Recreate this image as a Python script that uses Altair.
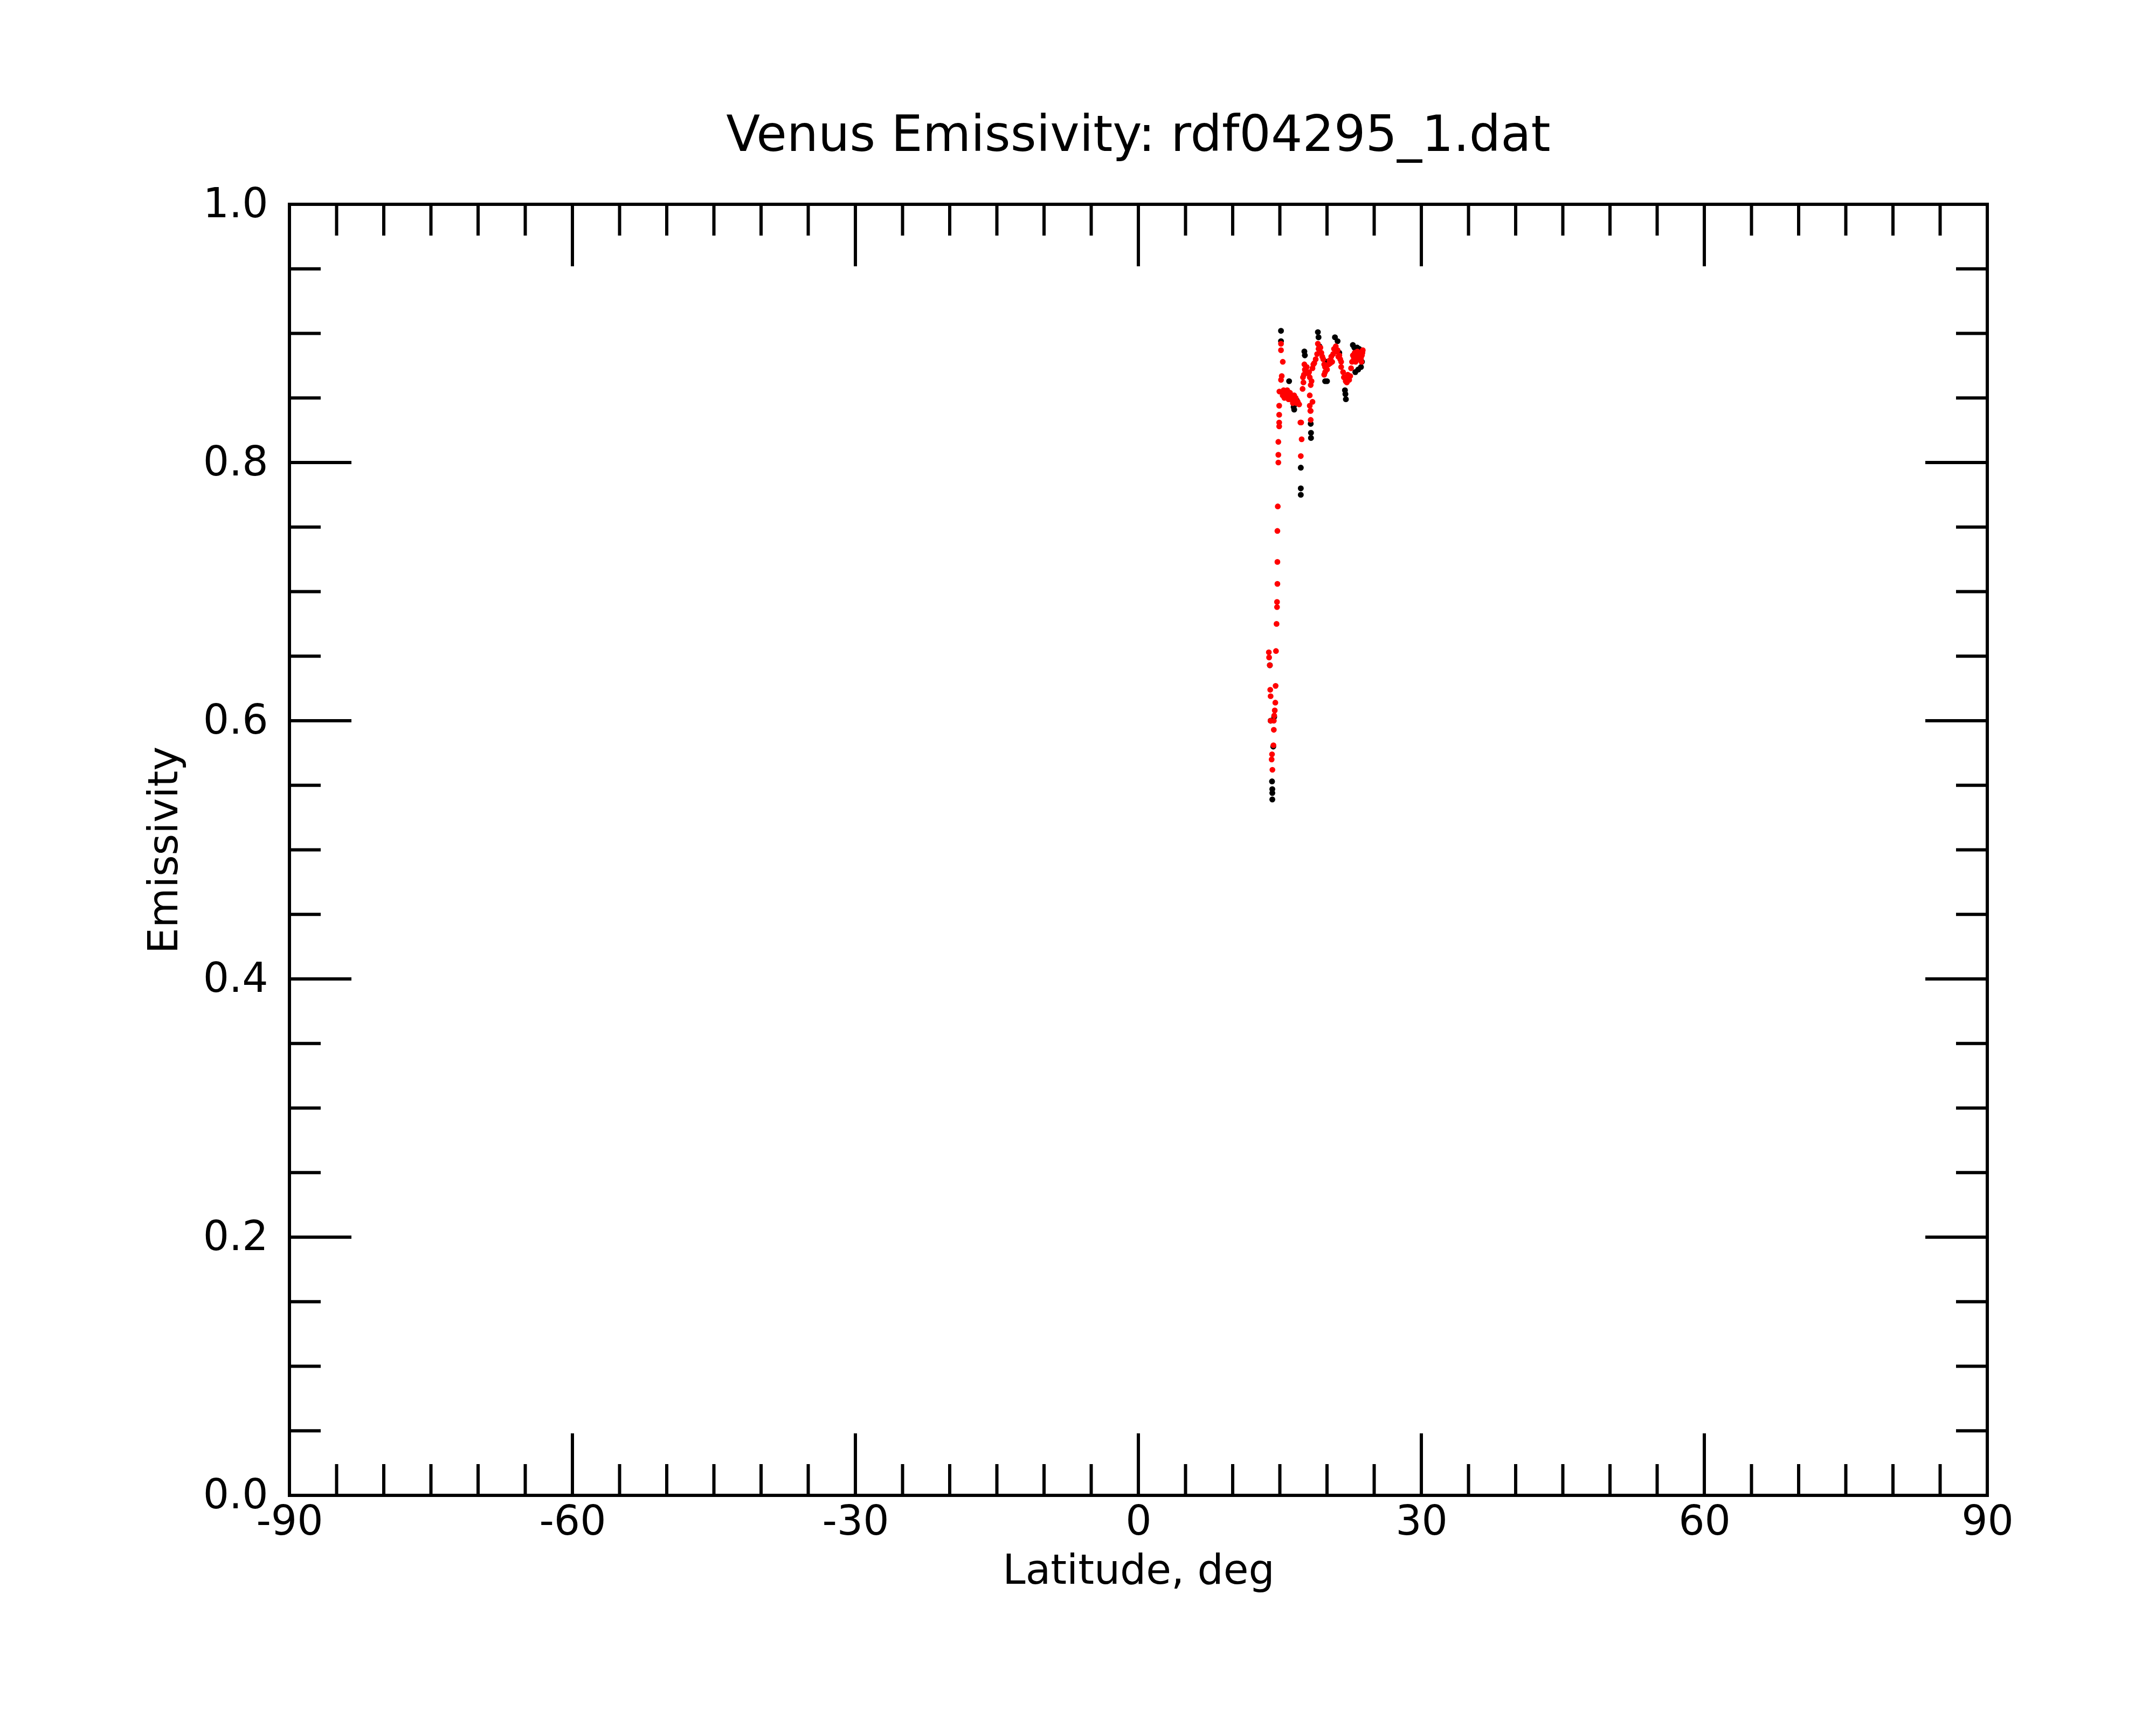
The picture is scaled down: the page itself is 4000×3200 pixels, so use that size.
import altair as alt
import pandas as pd

# ---- data ----
red_lat = [13.83, 13.86, 13.94, 13.98, 14.02, 14.02, 14.13, 14.17, 14.21, 14.32,
           14.36, 14.36, 14.40, 14.46, 14.52, 14.55, 14.59, 14.65, 14.70, 14.70,
           14.74, 14.74, 14.74, 14.78, 14.84, 14.84, 14.84, 14.93, 14.93, 14.93,
           14.93, 14.95, 15.12, 15.20, 15.31, 15.12, 15.12,
           15.40, 15.55, 15.70, 15.85, 16.00, 16.15, 16.30, 16.45, 16.60, 16.75,
           16.90, 17.05, 17.18, 17.26, 17.31, 17.22, 17.41, 17.50, 17.55, 17.60,
           17.70, 18.00, 18.17, 18.36, 18.27, 18.17, 18.46, 18.17, 18.27, 18.23,
           18.27, 18.46, 18.65, 18.80, 19.03, 19.10, 19.20, 19.40, 19.50, 19.60,
           19.70, 19.79, 19.80, 19.70, 19.90, 20.00, 20.17, 20.35, 20.55, 20.74,
           20.93, 21.12, 21.31, 21.50, 21.50, 21.70, 21.79, 21.98, 22.10, 22.27,
           22.46, 22.55, 22.65, 22.74, 22.93, 23.03, 23.22, 23.31, 23.50, 23.60,
           23.70, 23.79,
           15.30, 15.48, 15.62, 15.78, 15.92, 16.08, 16.22, 16.38, 16.52, 16.68,
           17.45, 17.65, 17.85, 18.10, 18.55, 18.95, 19.30, 20.25, 20.45, 20.65,
           21.00, 21.20, 21.40, 22.20, 22.35, 22.85, 23.10, 23.40, 23.65, 23.75]
red_emis = [0.653, 0.649, 0.643, 0.624, 0.619, 0.600, 0.570, 0.574, 0.562, 0.581,
            0.593, 0.600, 0.604, 0.608, 0.614, 0.627, 0.654, 0.675, 0.688, 0.692,
            0.706, 0.723, 0.747, 0.766, 0.800, 0.806, 0.816, 0.828, 0.831, 0.837,
            0.844, 0.855, 0.864, 0.867, 0.878, 0.887, 0.892,
            0.856, 0.853, 0.855, 0.851, 0.852, 0.849, 0.850, 0.848, 0.849, 0.846,
            0.847, 0.845, 0.831, 0.831, 0.818, 0.805, 0.857, 0.862, 0.868, 0.876,
            0.871, 0.869, 0.866, 0.863, 0.860, 0.852, 0.847, 0.844, 0.840, 0.840,
            0.833, 0.873, 0.877, 0.880, 0.892, 0.888, 0.888, 0.885, 0.882, 0.880,
            0.876, 0.874, 0.870, 0.868, 0.873, 0.872, 0.876, 0.877, 0.878, 0.888,
            0.890, 0.887, 0.883, 0.878, 0.874, 0.870, 0.866, 0.863, 0.862, 0.865,
            0.867, 0.873, 0.878, 0.883, 0.885, 0.878, 0.886, 0.880, 0.885, 0.881,
            0.883, 0.887,
            0.852, 0.850, 0.853, 0.856, 0.849, 0.854, 0.851, 0.846, 0.852, 0.850,
            0.866, 0.872, 0.874, 0.870, 0.876, 0.884, 0.889, 0.879, 0.882, 0.884,
            0.886, 0.882, 0.880, 0.868, 0.864, 0.881, 0.884, 0.882, 0.878, 0.885]

black_lat = [13.94, 14.02, 14.30, 14.40, 14.17, 14.20, 14.20, 14.20, 15.12, 15.12,
             15.50, 15.98, 16.10, 16.46, 16.52, 16.60, 16.80, 17.22, 17.22, 17.22,
             17.60, 17.65, 17.80, 18.27, 18.30, 18.30, 19.03, 19.10, 19.20, 19.80,
             20.00, 19.98, 20.84, 21.12, 21.30, 21.90, 21.95, 22.00, 22.74, 22.90,
             23.20, 23.40, 23.60, 23.00, 23.30, 23.70]
black_emis = [0.643, 0.600, 0.580, 0.603, 0.553, 0.547, 0.544, 0.539, 0.902, 0.894,
              0.855, 0.863, 0.850, 0.843, 0.841, 0.845, 0.848, 0.796, 0.780, 0.775,
              0.886, 0.883, 0.870, 0.830, 0.823, 0.819, 0.901, 0.897, 0.890, 0.863,
              0.863, 0.878, 0.897, 0.894, 0.885, 0.856, 0.853, 0.849, 0.891, 0.889,
              0.889, 0.888, 0.874, 0.870, 0.872, 0.878]

x_major = [-90, -60, -30, 0, 30, 60, 90]
x_minor = [-85, -80, -75, -70, -65, -55, -50, -45, -40, -35, -25, -20, -15, -10, -5,
           5, 10, 15, 20, 25, 35, 40, 45, 50, 55, 65, 70, 75, 80, 85]
y_major = [0.0, 0.2, 0.4, 0.6, 0.8, 1.0]
y_minor = [0.05, 0.1, 0.15, 0.25, 0.3, 0.35, 0.45, 0.5, 0.55, 0.65, 0.7, 0.75, 0.85, 0.9, 0.95]

W, H = 3150, 2395
MAJ, MIN = 115, 58
FONT = "DejaVu Sans"

red_df = pd.DataFrame({"lat": red_lat, "emis": red_emis})
black_df = pd.DataFrame({"lat": black_lat, "emis": black_emis})

xscale = alt.Scale(domain=[-90, 90], nice=False, zero=False)
yscale = alt.Scale(domain=[0, 1], nice=False, zero=False)

xaxis = alt.Axis(values=x_major, title="Latitude, deg", grid=False, ticks=False,
                 labelExpr="datum.value < 0 ? '-' + abs(datum.value) : '' + datum.value",
                 tickSize=0, domain=False, labelFlush=False, labelOverlap=False,
                 labelFontSize=76, labelFont=FONT, labelColor="black", labelPadding=12,
                 titleFontSize=76, titleFont=FONT, titleFontWeight="normal",
                 titleColor="black", titlePadding=16)
yaxis = alt.Axis(values=y_major, format=".1f", title="Emissivity", grid=False, ticks=False,
                 tickSize=0, domain=False, labelFlush=False, labelOverlap=False,
                 labelFontSize=76, labelFont=FONT, labelColor="black", labelPadding=40,
                 titleFontSize=76, titleFont=FONT, titleFontWeight="normal",
                 titleColor="black", titlePadding=32)

black_pts = alt.Chart(black_df).mark_circle(size=120, color="black", opacity=1).encode(
    x=alt.X("lat:Q", scale=xscale, axis=xaxis),
    y=alt.Y("emis:Q", scale=yscale, axis=yaxis),
)
red_pts = alt.Chart(red_df).mark_circle(size=115, color="#ff0000", opacity=1).encode(
    x=alt.X("lat:Q", scale=xscale),
    y=alt.Y("emis:Q", scale=yscale),
)

def xticks(vals, length):
    df = pd.DataFrame({"v": vals})
    bottom = alt.Chart(df).mark_rule(color="black", strokeWidth=6).encode(
        x=alt.X("v:Q", scale=xscale), y=alt.value(H), y2=alt.value(H - length))
    top = alt.Chart(df).mark_rule(color="black", strokeWidth=6).encode(
        x=alt.X("v:Q", scale=xscale), y=alt.value(0), y2=alt.value(length))
    return [bottom, top]

def yticks(vals, length):
    df = pd.DataFrame({"v": vals})
    left = alt.Chart(df).mark_rule(color="black", strokeWidth=6).encode(
        y=alt.Y("v:Q", scale=yscale), x=alt.value(0), x2=alt.value(length))
    right = alt.Chart(df).mark_rule(color="black", strokeWidth=6).encode(
        y=alt.Y("v:Q", scale=yscale), x=alt.value(W - length), x2=alt.value(W))
    return [left, right]

layers = [black_pts, red_pts] + xticks(x_major[1:-1], MAJ) + xticks(x_minor, MIN) \
    + yticks(y_major[1:-1], MAJ) + yticks(y_minor, MIN)

chart = alt.layer(*layers).properties(
    width=W, height=H,
    title=alt.TitleParams("Venus Emissivity: rdf04295_1.dat", fontSize=92, font=FONT,
                          fontWeight="normal", color="black", anchor="middle", offset=42),
    autosize=alt.AutoSizeParams(type="none"),
    padding={"left": 529, "top": 371, "right": 305, "bottom": 420},
    background="white",
).configure_view(stroke="black", strokeWidth=6)

chart.save("out.html", embed_options={"renderer": "svg", "actions": False})
